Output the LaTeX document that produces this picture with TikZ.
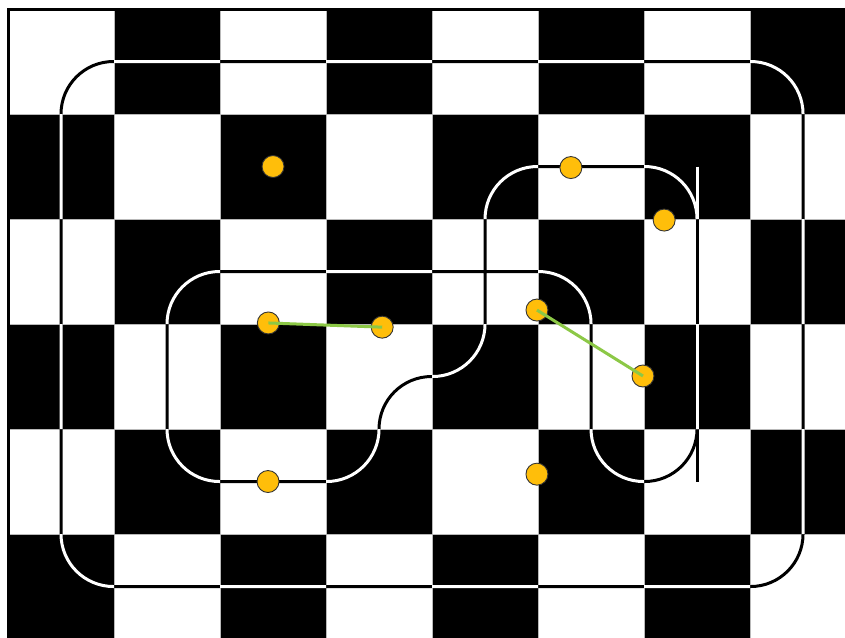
\documentclass[tikz,border=0pt]{standalone}
\usepackage{tikz}
\definecolor{marker}{RGB}{255,190,10}
\definecolor{pairing}{RGB}{140,200,70}
\definecolor{cellline}{RGB}{185,185,185}

\newcommand{\outertrack}{(0.5,0.5) rectangle (7.5,5.5)}
\newcommand{\innertrack}{(6.5,2) -- (6.5,1.5) -- (4.5,1.5) -- (4.5,3.5) -- (3.5,3.5) -- (3.5,4.5)
  -- (1.5,4.5) -- (1.5,2.5) -- (5.5,2.5) -- (5.5,4.5) -- (6.5,4.5) -- (6.5,4)}
\newcommand{\stubtrack}{(6.5,1.5) -- (6.5,4.5)}

\begin{document}
\begin{tikzpicture}[
  x=106pt, y=-105pt,
  cell/.style={draw=cellline, line width=0.8pt},
  track/.style={line width=3pt, rounded corners=52.5pt},
  dot/.style={circle, draw=black!80, fill=marker, line width=0.9pt,
    minimum size=22pt, inner sep=0pt},
  link/.style={draw=pairing, line width=3pt}
]
\useasboundingbox (-0.0755,-0.0857) rectangle (7.896,5.990);
\fill[white] (-0.0755,-0.0857) rectangle (7.896,5.990);
\foreach \r in {0,...,5}
  \foreach \c in {0,...,7}{
    \pgfmathtruncatemacro{\odd}{mod(\r+\c,2)}
    \ifnum\odd=1 \def\shade{black}\else\def\shade{white}\fi
    \draw[cell, fill=\shade] (\c,\r) rectangle +(1,1);
  }
\draw[line width=3pt] (0,0) rectangle (8,6);

\draw[track, black] \outertrack;
\draw[track, black] \innertrack;
\draw[track, black] \stubtrack;
\begin{scope}
  \clip foreach \r in {0,...,5} { foreach \k in {0,...,3} { ({2*\k+1-mod(\r,2)},\r) rectangle +(1,1) } };
  \draw[track, white] \outertrack;
  \draw[track, white] \innertrack;
  \draw[track, white] \stubtrack;
\end{scope}

\node[dot] (m1) at (2.5,1.5) {};
\node[dot] (m2) at (5.31,1.51) {};
\node[dot] (m3) at (6.19,2.01) {};
\node[dot] (m4) at (2.456,2.99) {};
\node[dot] (m5) at (3.53,3.03) {};
\node[dot] (m6) at (2.453,4.5) {};
\node[dot] (m7) at (4.99,2.867) {};
\node[dot] (m8) at (5.99,3.495) {};
\node[dot] (m9) at (4.99,4.43) {};
\draw[link] (m4.center) -- (m5.center);
\draw[link] (m7.center) -- (m8.center);
\end{tikzpicture}
\end{document}
